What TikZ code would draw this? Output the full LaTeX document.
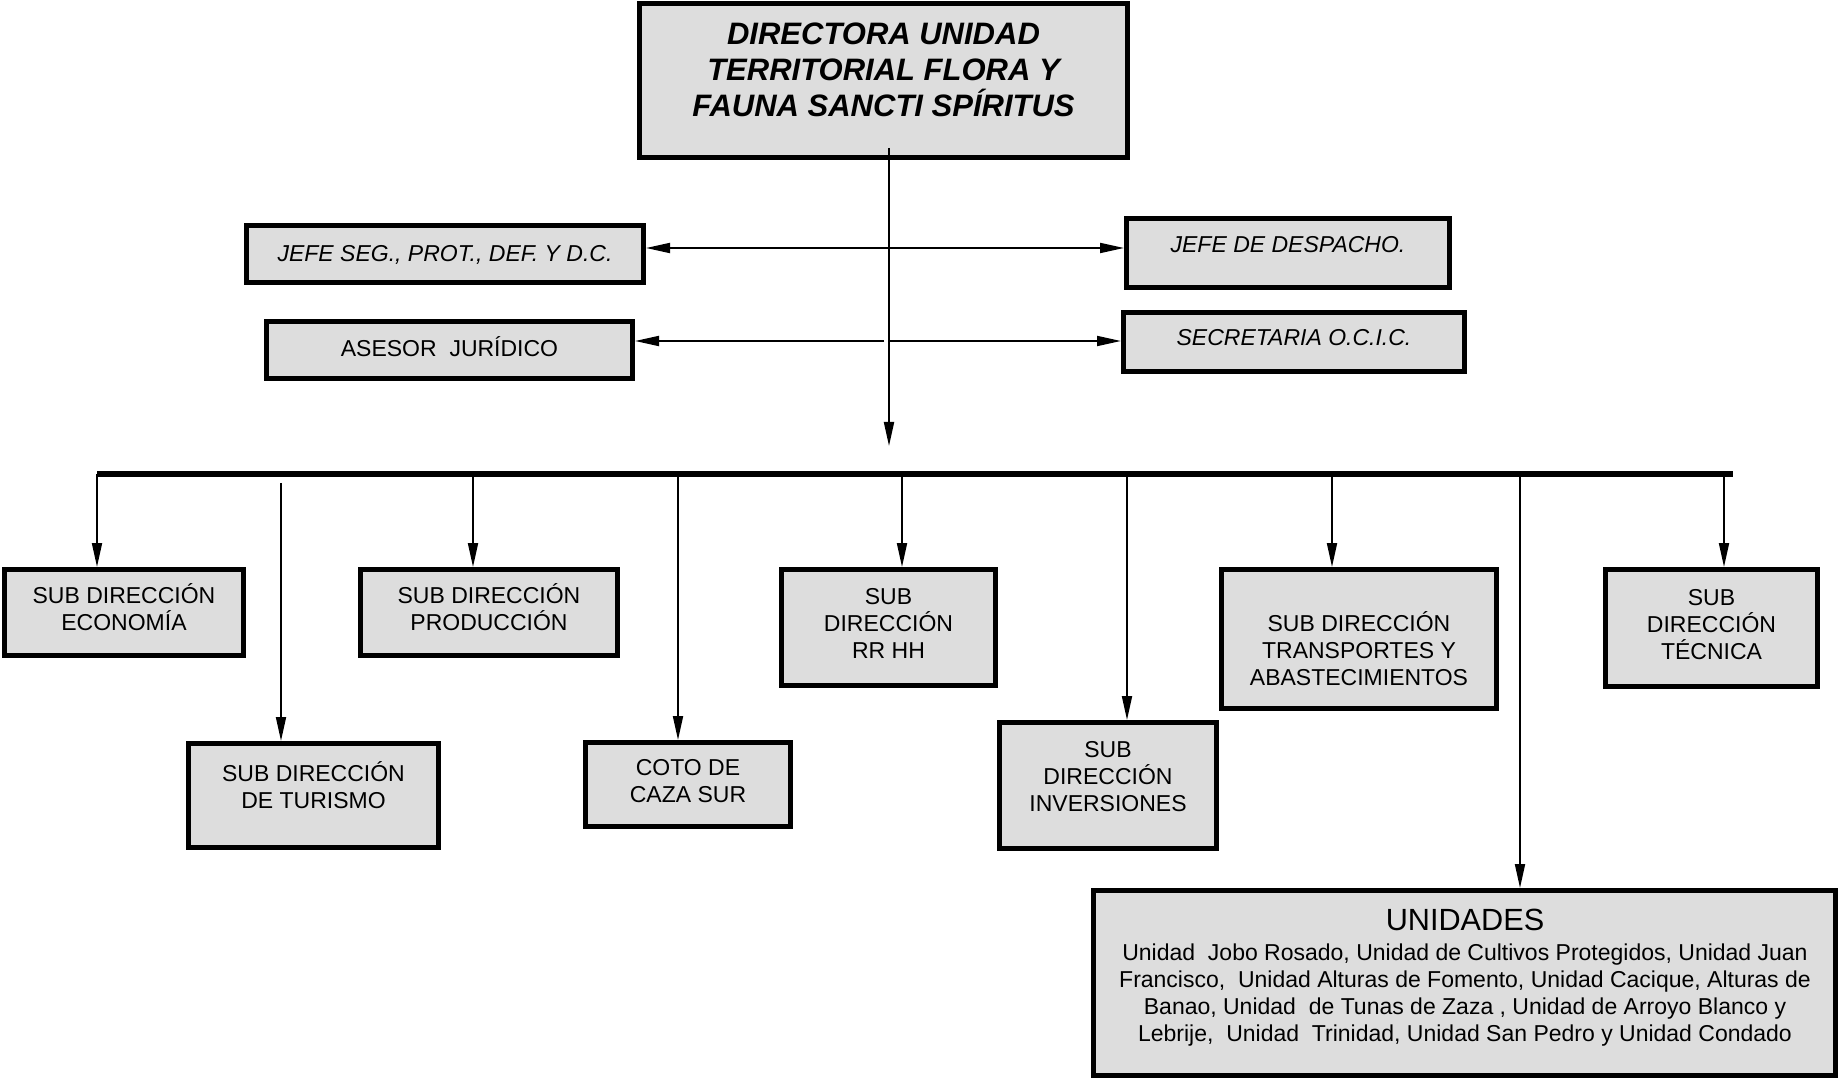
\documentclass[tikz,border=0pt]{standalone}
\usepackage{fontspec}
\setmainfont{Liberation Sans}
\usetikzlibrary{arrows.meta,fit}
\definecolor{boxgray}{RGB}{221,221,221}
\begin{document}
\begin{tikzpicture}[x=0.75pt,y=-0.75pt,
  box/.style={draw=black,line width=4pt,fill=boxgray,inner sep=-2pt},
  txt/.style={font=\fontsize{17.25}{20.25}\selectfont,align=center,inner sep=0pt},
  ttl/.style={font=\fontsize{23.25}{27}\selectfont\bfseries\itshape,align=center,inner sep=0pt},
  utl/.style={font=\fontsize{23}{27}\selectfont,align=center,inner sep=0pt},
  conn/.style={line width=1.4pt,-{Triangle[length=18pt,width=7.5pt]}},
  dconn/.style={line width=1.4pt,{Triangle[length=18pt,width=7.5pt]}-{Triangle[length=18pt,width=7.5pt]}},
  bus/.style={line width=4.2pt}]
\path[fill=white,use as bounding box] (0,0) rectangle (1839,1080);

% boxes
\node[box,fit={(637,1) (1130,160)}] (top) {};
\node[box,fit={(244,223) (646,285)}] (jefeseg) {};
\node[box,fit={(264,319) (635,381)}] (asesor) {};
\node[box,fit={(1124,216) (1452,290)}] (despacho) {};
\node[box,fit={(1121,310) (1467,374)}] (secretaria) {};
\node[box,fit={(2,567) (246,658)}] (econ) {};
\node[box,fit={(186,741) (441,850)}] (turismo) {};
\node[box,fit={(358,567) (620,658)}] (produccion) {};
\node[box,fit={(583,740) (793,829)}] (coto) {};
\node[box,fit={(779,567) (998,688)}] (rrhh) {};
\node[box,fit={(997,720) (1219,851)}] (inversiones) {};
\node[box,fit={(1219,567) (1499,711)}] (transportes) {};
\node[box,fit={(1603,567) (1820,689)}] (tecnica) {};
\node[box,fit={(1091,888) (1838,1078)}] (unidades) {};

% texts
\node[ttl] (topT) at (883.5,69.5) {DIRECTORA UNIDAD\\TERRITORIAL FLORA Y\\FAUNA SANCTI SPÍRITUS};
\node[txt,font=\fontsize{17.25}{20.25}\selectfont\itshape] (jefesegT) at (445,255) {JEFE SEG., PROT., DEF. Y D.C.};
\node[txt] (asesorT) at (449.5,347) {ASESOR\ \ JURÍDICO};
\node[txt,font=\fontsize{17.25}{20.25}\selectfont\itshape] (despachoT) at (1288,245) {JEFE DE DESPACHO.};
\node[txt,font=\fontsize{17.25}{20.25}\selectfont\itshape] (secretariaT) at (1294,338) {SECRETARIA O.C.I.C.};
\node[txt] (econT) at (124,607) {SUB DIRECCIÓN\\ECONOMÍA};
\node[txt] (produccionT) at (489,607) {SUB DIRECCIÓN\\PRODUCCIÓN};
\node[txt] (turismoT) at (313.5,785) {SUB DIRECCIÓN\\DE TURISMO};
\node[txt] (cotoT) at (688,781) {COTO DE\\CAZA SUR};
\node[txt] (rrhhT) at (888.5,623) {SUB\\DIRECCIÓN\\RR HH};
\node[txt] (inversionesT) at (1108,777) {SUB\\DIRECCIÓN\\INVERSIONES};
\node[txt] (transportesT) at (1359,649) {SUB DIRECCIÓN\\TRANSPORTES Y\\ABASTECIMIENTOS};
\node[txt] (tecnicaT) at (1711.5,624.5) {SUB\\DIRECCIÓN\\TÉCNICA};
\node[utl] (unidadesT) at (1465,920) {UNIDADES};
\node[txt] (unidadesB) at (1465,995) {Unidad\ \ Jobo Rosado, Unidad de Cultivos Protegidos, Unidad Juan\\Francisco,\ \ Unidad Alturas de Fomento, Unidad Cacique, Alturas de\\Banao, Unidad\ \ de Tunas de Zaza , Unidad de Arroyo Blanco y\\Lebrije,\ \ Unidad\ \ Trinidad, Unidad San Pedro y Unidad Condado};

% main vertical connector
\coordinate (vtop) at (889,148);
\coordinate (vend) at (889,446);
\draw[conn] (vtop) -- (vend);

% side connectors
\coordinate (jrow) at (889,248);
\draw[dconn] (jefeseg.east |- jrow) -- (despacho.west |- jrow);
\coordinate (arowL) at (884,341);
\coordinate (arowR) at (889,341);
\draw[conn] (arowL) -- (asesor.east |- arowL);
\draw[conn] (arowR) -- (secretaria.west |- arowR);

% bus
\coordinate (busL) at (97,474);
\coordinate (busR) at (1733,474);
\draw[bus] (busL) -- (busR);

% drops
\coordinate (d1) at (97,474);
\coordinate (d2) at (281,483);
\coordinate (d3) at (473,474);
\coordinate (d4) at (678,474);
\coordinate (d5) at (902,474);
\coordinate (d6) at (1127,474);
\coordinate (d7) at (1332,474);
\coordinate (d8) at (1520,474);
\coordinate (d9) at (1724,474);
\draw[conn] (d1) -- (d1 |- econ.north);
\draw[conn] (d2) -- (d2 |- turismo.north);
\draw[conn] (d3) -- (d3 |- produccion.north);
\draw[conn] (d4) -- (d4 |- coto.north);
\draw[conn] (d5) -- (d5 |- rrhh.north);
\draw[conn] (d6) -- (d6 |- inversiones.north);
\draw[conn] (d7) -- (d7 |- transportes.north);
\draw[conn] (d8) -- (d8 |- unidades.north);
\draw[conn] (d9) -- (d9 |- tecnica.north);
\end{tikzpicture}
\end{document}
